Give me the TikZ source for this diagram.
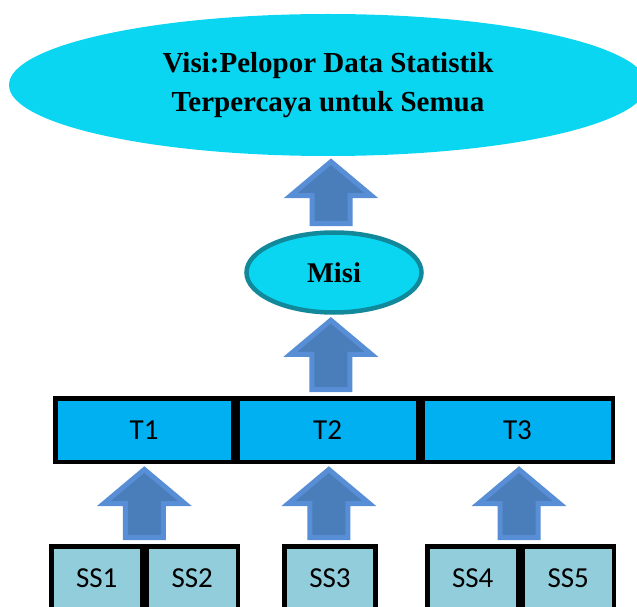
\documentclass[tikz,border=0pt]{standalone}
\usepackage{fontspec}
\setmainfont{Carlito}
\newfontfamily\visifont{Liberation Serif}
\usetikzlibrary{positioning, calc, shapes.geometric}
\definecolor{visicyan}{HTML}{0AD6F2}
\definecolor{misiedge}{HTML}{12899A}
\definecolor{tblue}{HTML}{00B0F0}
\definecolor{sslight}{HTML}{92CDDC}
\definecolor{arrfill}{HTML}{4A7EBB}
\definecolor{arredge}{HTML}{588ED6}
\tikzset{
  oval/.style={ellipse, fill=visicyan, align=center, inner sep=0pt,
               font=\visifont\bfseries},
  tbox/.style={draw, line width=4.5pt, fill=tblue, minimum height=63.5pt,
               inner sep=0pt, font=\fontsize{29}{33}\selectfont},
  ssbox/.style={tbox, fill=sslight, minimum width=91pt},
  blkarr/.style={fill=arrfill, draw=arredge, line width=5pt},
}
% block arrow pointing up, from #1 (below) to #2 (above)
\newcommand{\upblock}[2]{%
  \draw[blkarr] let \p1=(#1), \p2=(#2), \n1={(\x1+\x2)/2},
      \n2={\y2-5.5pt}, \n3={\y1+6.5pt} in
    (\n1,\n2) -- (\n1+40.5,\n2-34) -- (\n1+19,\n2-34) -- (\n1+19,\n3)
    -- (\n1-19,\n3) -- (\n1-19,\n2-34) -- (\n1-40.5,\n2-34) -- cycle;}
\begin{document}
\begin{tikzpicture}[x=1pt, y=1pt]
  \clip (0,0) rectangle (637,606);
  \useasboundingbox (0,0) rectangle (637,606);
  \node[oval, minimum width=638pt, minimum height=142pt,
        font=\visifont\bfseries\fontsize{29}{39.5}\selectfont]
    (visi) at (328,521) {Visi:Pelopor Data Statistik\\Terpercaya untuk Semua};
  \node[oval, draw=misiedge, line width=4.5pt, minimum width=175pt,
        minimum height=80pt, font=\visifont\bfseries\fontsize{28.5}{32}\selectfont]
    (misi) at (334,333.5) {Misi};
  \node[tbox, minimum width=177.8pt] (t1) at (144.15,176) {T1};
  \node[tbox, minimum width=180.2pt, right=0pt of t1] (t2) {T2};
  \node[tbox, minimum width=190.5pt, right=0pt of t2] (t3) {T3};
  \node[ssbox] (ss1) at (96.75,28) {SS1};
  \node[ssbox, right=0pt of ss1] (ss2) {SS2};
  \node[ssbox] (ss3) at (330,28) {SS3};
  \node[ssbox] (ss4) at (472.75,28) {SS4};
  \node[ssbox, right=0pt of ss4] (ss5) {SS5};
  \upblock{misi.north}{visi.south}
  \upblock{t2.north}{misi.south}
  \upblock{ss1.north east}{t1.south}
  \upblock{ss3.north}{t2.south}
  \upblock{ss4.north east}{t3.south}
\end{tikzpicture}
\end{document}
